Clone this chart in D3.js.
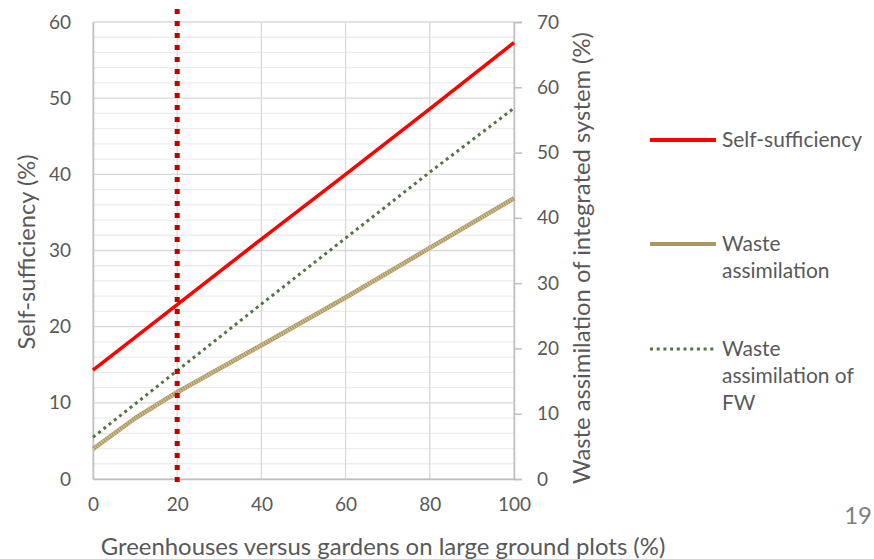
<!DOCTYPE html>
<html><head><meta charset="utf-8">
<script src="https://cdn.jsdelivr.net/npm/d3@7"></script>
<style>body{margin:0;background:#fff}svg{display:block}text{font-family:Lato,"Open Sans",sans-serif;fill:#595959}</style>
</head><body><svg id="c" width="874" height="559"></svg>
<script>
// ---- data ----
const xTicks = [0, 20, 40, 60, 80, 100];
const leftTicks = [0, 10, 20, 30, 40, 50, 60];
const leftMinorStep = 2;
const rightTicks = [0, 10, 20, 30, 40, 50, 60, 70];
const selfX = [0, 20, 40, 60, 80, 100];
const selfSufficiency = [14.3, 22.9, 31.5, 40.0, 48.6, 57.3];
const wasteX = [0, 10, 20, 40, 60, 80, 100];
const wasteAssimilation = [4.6, 9.3, 13.3, 20.5, 27.8, 35.4, 43.0];
const fwX = [0, 20, 40, 60, 80, 100];
const wasteAssimilationFW = [6.4, 16.6, 26.8, 36.9, 47.0, 56.8];
const markerX = 20;
const markerSpan = [-1.2, 61.7];
const legendLabels = [["Self-sufficiency"], ["Waste", "assimilation"], ["Waste", "assimilation of", "FW"]];
const xTitle = "Greenhouses versus gardens on large ground plots (%)";
const yLeftTitle = "Self-sufficiency (%)";
const yRightTitle = "Waste assimilation of integrated system (%)";
const pageNumber = "19";

// ---- layout ----
const L = 93, R = 514, T = 22, B = 479;
const svg = d3.select("#c");
const x = d3.scaleLinear().domain([0, 100]).range([L, R]);
const yL = d3.scaleLinear().domain([0, 60]).range([B, T]);
const yR = d3.scaleLinear().domain([0, 70]).range([B, T]);

function fit(sel, w) {
  const n = sel.node();
  const fs = parseFloat(sel.attr("font-size"));
  const cur = n.getComputedTextLength();
  sel.attr("font-size", (fs * w / cur).toFixed(2));
}

// gridlines
const minor = d3.range(0, 60 + 0.01, leftMinorStep).filter(v => v % 10 !== 0);
svg.append("g").selectAll("line").data(minor).join("line")
  .attr("x1", L).attr("x2", R).attr("y1", d => yL(d)).attr("y2", d => yL(d))
  .attr("stroke", "#ececec").attr("stroke-width", 1.3);
svg.append("g").selectAll("line").data(leftTicks).join("line")
  .attr("x1", L).attr("x2", R).attr("y1", d => yL(d)).attr("y2", d => yL(d))
  .attr("stroke", "#d9d9d9").attr("stroke-width", 1.3);
svg.append("g").selectAll("line").data(xTicks).join("line")
  .attr("x1", d => x(d)).attr("x2", d => x(d)).attr("y1", T).attr("y2", B)
  .attr("stroke", "#d9d9d9").attr("stroke-width", 1.3);

// axes
const axL = svg.append("g").attr("transform", `translate(${L},0)`)
  .call(d3.axisLeft(yL).tickValues(leftTicks).tickSize(0).tickPadding(22));
const axB = svg.append("g").attr("transform", `translate(0,${B})`)
  .call(d3.axisBottom(x).tickValues(xTicks).tickSize(0).tickPadding(19));
const axR = svg.append("g").attr("transform", `translate(${R},0)`)
  .call(d3.axisRight(yR).tickValues(rightTicks).tickSize(8).tickPadding(15));
[axL, axB, axR].forEach(a => {
  a.select(".domain").attr("stroke", "#bfbfbf").attr("stroke-width", 1.5);
  a.selectAll(".tick line").attr("stroke", "#bfbfbf").attr("stroke-width", 1.5);
  a.selectAll(".tick text").attr("font-size", 19).attr("fill", "#595959")
    .style("font-family", "Lato, 'Open Sans', sans-serif");
});

// series
const lineL = d3.line().x(d => x(d[0])).y(d => yL(d[1]));
const lineR = d3.line().x(d => x(d[0])).y(d => yR(d[1]));
const wasteData = wasteX.map((v, i) => [v, wasteAssimilation[i]]);
svg.append("path").datum(wasteData).attr("d", lineR)
  .attr("fill", "none").attr("stroke", "#ad9760").attr("stroke-width", 4.5).attr("stroke-linejoin", "round");
svg.append("path").datum(wasteData).attr("d", lineR)
  .attr("fill", "none").attr("stroke", "#d2c294").attr("stroke-width", 3.5)
  .attr("stroke-dasharray", "1.2,1.3");
svg.append("path").datum(fwX.map((v, i) => [v, wasteAssimilationFW[i]])).attr("d", lineR)
  .attr("fill", "none").attr("stroke", "#547543").attr("stroke-width", 3)
  .attr("stroke-dasharray", "3,3.7");
svg.append("path").datum(selfX.map((v, i) => [v, selfSufficiency[i]])).attr("d", lineL)
  .attr("fill", "none").attr("stroke", "#ff0000").attr("stroke-width", 3.5);

// marker
svg.append("line")
  .attr("x1", x(markerX)).attr("x2", x(markerX))
  .attr("y1", yL(markerSpan[1])).attr("y2", yL(markerSpan[0]))
  .attr("stroke", "#c00000").attr("stroke-width", 5).attr("stroke-dasharray", "5,7");

// titles
fit(svg.append("text").attr("x", 383).attr("y", 555).attr("text-anchor", "middle")
  .attr("font-size", 18).text(xTitle), 565);
fit(svg.append("text").attr("transform", "translate(35,252) rotate(-90)").attr("text-anchor", "middle")
  .attr("font-size", 18).text(yLeftTitle), 195);
fit(svg.append("text").attr("transform", "translate(590,258) rotate(-90)").attr("text-anchor", "middle")
  .attr("font-size", 18).text(yRightTitle), 452);
svg.append("text").attr("x", 872).attr("y", 524).attr("text-anchor", "end")
  .attr("font-size", 24).style("fill", "#7f7f7f").text(pageNumber);

// legend
const legendY = [140, 244, 349];
const legendStyles = [
  {stroke: "#ff0000", w: 4, dash: null},
  {stroke: "#ad9760", w: 4, dash: null},
  {stroke: "#547543", w: 3, dash: "3,3.7"}
];
legendY.forEach((ly, i) => {
  const s = legendStyles[i];
  svg.append("line").attr("x1", 650).attr("x2", 716).attr("y1", ly).attr("y2", ly)
    .attr("stroke", s.stroke).attr("stroke-width", s.w).attr("stroke-dasharray", s.dash);
  legendLabels[i].forEach((t, j) => {
    const tx = svg.append("text").attr("x", 722).attr("y", ly + j * 27).attr("dy", "0.35em")
      .attr("font-size", 17).text(t);
    if (i === 0 && j === 0) fit(tx, 140);
  });
});
const legendFs = svg.selectAll("text").filter(function(){return d3.select(this).text()==="Self-sufficiency";}).attr("font-size");
svg.selectAll("text").filter(function(){const t=d3.select(this).text();return legendLabels.flat().includes(t);}).attr("font-size", legendFs);
</script></body></html>
